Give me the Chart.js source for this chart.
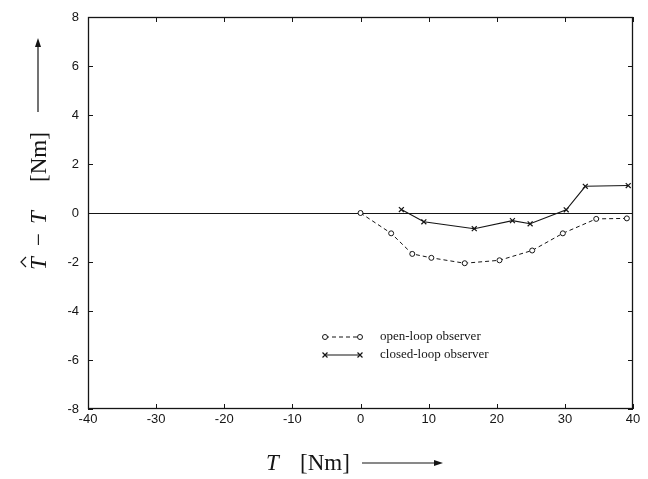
<!DOCTYPE html>
<html><head><meta charset="utf-8">
<script src="https://cdn.jsdelivr.net/npm/chart.js@4/dist/chart.umd.min.js"></script>
<style>html,body{margin:0;padding:0;background:#fff}#wrap{width:648px;height:479px}</style>
</head><body><div id="wrap"><canvas id="c" width="648" height="479"></canvas></div>
<script>
// ---- data ----
const openLoopT   = [0, 4.5, 7.6, 10.4, 15.3, 20.4, 25.2, 29.7, 34.6, 39.1];
const openLoopErr = [0, -0.83, -1.67, -1.83, -2.05, -1.93, -1.53, -0.83, -0.24, -0.22];
const closedLoopT   = [6.0, 9.3, 16.7, 22.3, 24.9, 30.2, 33.0, 39.3];
const closedLoopErr = [0.14, -0.36, -0.64, -0.31, -0.44, 0.13, 1.09, 1.12];
const xTickValues = [-40, -30, -20, -10, 0, 10, 20, 30, 40];
const yTickValues = [-8, -6, -4, -2, 0, 2, 4, 6, 8];
const seriesLabels = ['open-loop observer', 'closed-loop observer'];
const referenceLevel = 0;
const xTitleParts = ['T', '[Nm]'];
const yTitleParts = ['T', '\u2212', 'T', '[Nm]'];

const INK = '#151515';
const SERIF = '"Liberation Serif", "Times New Roman", serif';
const SANS = '"Liberation Sans", Arial, sans-serif';

function pairs(xs, ys) { return xs.map((x, i) => ({ x: x, y: ys[i] })); }

const datasets = [
  { label: seriesLabels[0], data: pairs(openLoopT, openLoopErr), showLine: true,
    borderColor: INK, borderWidth: 1, borderDash: [4, 3],
    pointStyle: 'circle', pointRadius: 2.5, pointBorderWidth: 1,
    pointBackgroundColor: '#fff', pointBorderColor: INK },
  { label: seriesLabels[1], data: pairs(closedLoopT, closedLoopErr), showLine: true,
    borderColor: INK, borderWidth: 1.1,
    pointStyle: 'crossRot', pointRadius: 3.5, pointBorderWidth: 1.2,
    pointBackgroundColor: INK, pointBorderColor: INK }
];

function arrow(ctx, x1, y1, x2, y2) {
  const ang = Math.atan2(y2 - y1, x2 - x1);
  const hl = 9, hw = 3;
  ctx.beginPath();
  ctx.moveTo(x1, y1);
  ctx.lineTo(x2 - Math.cos(ang) * hl * 0.8, y2 - Math.sin(ang) * hl * 0.8);
  ctx.stroke();
  ctx.beginPath();
  ctx.moveTo(x2, y2);
  ctx.lineTo(x2 - Math.cos(ang) * hl - Math.sin(ang) * hw, y2 - Math.sin(ang) * hl + Math.cos(ang) * hw);
  ctx.lineTo(x2 - Math.cos(ang) * hl + Math.sin(ang) * hw, y2 - Math.sin(ang) * hl - Math.cos(ang) * hw);
  ctx.closePath();
  ctx.fill();
}

const decor = {
  id: 'decor',
  beforeDatasetsDraw(chart) {
    const { ctx, chartArea: a, scales } = chart;
    ctx.save();
    ctx.strokeStyle = INK;
    ctx.lineWidth = 1;
    // reference line
    const y0 = Math.round(scales.y.getPixelForValue(referenceLevel)) + 0.5;
    ctx.beginPath(); ctx.moveTo(a.left, y0); ctx.lineTo(a.right, y0); ctx.stroke();
    // frame
    ctx.lineWidth = 1.3;
    ctx.strokeRect(a.left + 0.5, a.top + 0.5, a.right - a.left - 1, a.bottom - a.top - 1);
    // inward ticks
    ctx.lineWidth = 1;
    const tl = 5;
    xTickValues.forEach(v => {
      const px = Math.round(scales.x.getPixelForValue(v)) + 0.5;
      ctx.beginPath();
      ctx.moveTo(px, a.bottom); ctx.lineTo(px, a.bottom - tl);
      ctx.moveTo(px, a.top); ctx.lineTo(px, a.top + tl);
      ctx.stroke();
    });
    yTickValues.forEach(v => {
      const py = Math.round(scales.y.getPixelForValue(v)) + 0.5;
      ctx.beginPath();
      ctx.moveTo(a.left, py); ctx.lineTo(a.left + tl, py);
      ctx.moveTo(a.right, py); ctx.lineTo(a.right - tl, py);
      ctx.stroke();
    });
    ctx.restore();
  },
  afterDraw(chart) {
    const ctx = chart.ctx;
    ctx.save();
    ctx.fillStyle = INK; ctx.strokeStyle = INK;
    // legend
    const rows = [337, 355];
    chart.data.datasets.forEach((ds, i) => {
      const y = rows[i];
      const x1 = 325, x2 = 360;
      ctx.save();
      ctx.lineWidth = ds.borderWidth;
      ctx.setLineDash(ds.borderDash || []);
      ctx.beginPath(); ctx.moveTo(x1, y); ctx.lineTo(x2, y); ctx.stroke();
      ctx.setLineDash([]);
      [x1, x2].forEach(px => {
        ctx.fillStyle = ds.pointBackgroundColor; ctx.strokeStyle = ds.pointBorderColor;
        ctx.lineWidth = ds.pointBorderWidth;
        Chart.helpers.drawPoint(ctx, { pointStyle: ds.pointStyle, radius: ds.pointRadius, rotation: 0, borderWidth: ds.pointBorderWidth }, px, y);
      });
      ctx.restore();
      ctx.font = '13px ' + SERIF;
      ctx.textBaseline = 'middle'; ctx.textAlign = 'left';
      ctx.fillText(ds.label, 380, y);
    });
    // x title
    ctx.textBaseline = 'alphabetic'; ctx.textAlign = 'left';
    ctx.font = 'italic 23px ' + SERIF;
    ctx.fillText(xTitleParts[0], 266, 470);
    ctx.font = '23px ' + SERIF;
    ctx.fillText(xTitleParts[1], 300, 470);
    ctx.lineWidth = 1.2;
    arrow(ctx, 362, 463, 443, 463);
    // y title (rotated)
    ctx.save();
    ctx.translate(46, 0);
    ctx.rotate(-Math.PI / 2);
    ctx.font = 'italic 23px ' + SERIF;
    ctx.fillText(yTitleParts[0], -270, 0);
    // hat over first T
    ctx.lineWidth = 1.2;
    ctx.beginPath();
    ctx.moveTo(-267, -20); ctx.lineTo(-262, -25); ctx.lineTo(-257, -20);
    ctx.stroke();
    ctx.font = '23px ' + SERIF;
    ctx.fillText(yTitleParts[1], -246, 0);
    ctx.font = 'italic 23px ' + SERIF;
    ctx.fillText(yTitleParts[2], -224, 0);
    ctx.font = '23px ' + SERIF;
    ctx.fillText(yTitleParts[3], -182, 0);
    arrow(ctx, -112, -8, -38, -8);
    ctx.restore();
    ctx.restore();
  }
};

new Chart(document.getElementById('c'), {
  type: 'scatter',
  data: { datasets: datasets },
  plugins: [decor],
  options: {
    responsive: false, animation: false, devicePixelRatio: 1,
    layout: { padding: { left: 0, right: 15, top: 17, bottom: 0 } },
    plugins: { legend: { display: false }, tooltip: { enabled: false } },
    scales: {
      x: {
        type: 'linear', min: -40, max: 40,
        afterBuildTicks: s => { s.ticks = xTickValues.map(v => ({ value: v })); },
        afterFit: s => { s.height = 70; },
        grid: { display: false, drawTicks: false },
        border: { display: false },
        ticks: { color: INK, font: { family: SANS, size: 13 }, padding: 3, maxRotation: 0, autoSkip: false }
      },
      y: {
        type: 'linear', min: -8, max: 8,
        afterBuildTicks: s => { s.ticks = yTickValues.map(v => ({ value: v })); },
        afterFit: s => { s.width = 88; },
        grid: { display: false, drawTicks: false },
        border: { display: false },
        ticks: { color: INK, font: { family: SANS, size: 13 }, padding: 9, autoSkip: false }
      }
    }
  }
});
</script></body></html>
